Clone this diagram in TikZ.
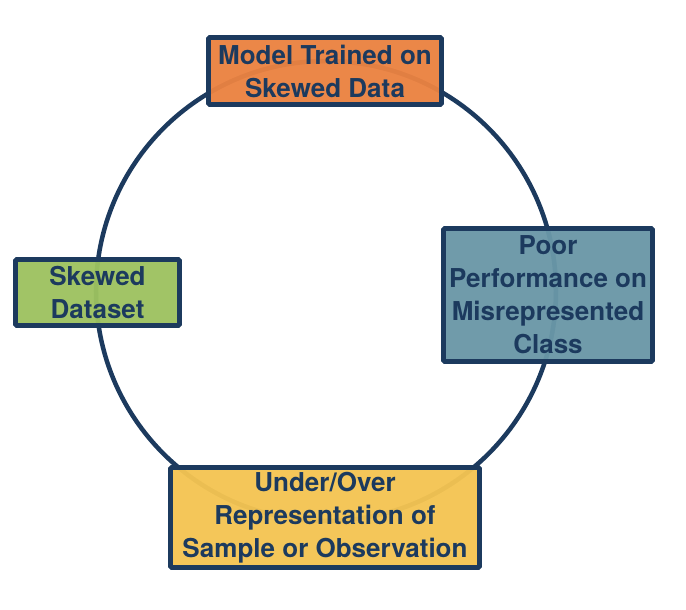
\documentclass[tikz,border=0pt]{standalone}
\usepackage{fontspec}
\setmainfont{TeX Gyre Heros}
\usepackage{xcolor}

\definecolor{navy}{HTML}{1C3A5E}
\definecolor{boxorange}{HTML}{EA8241}
\definecolor{boxgreen}{HTML}{9DC260}
\definecolor{boxteal}{HTML}{6A97A7}
\definecolor{boxyellow}{HTML}{F4C452}

\begin{document}
\begin{tikzpicture}[
		stage/.style={draw=navy, line width=3.5pt, rounded corners=1pt, fill opacity=0.96, text opacity=1, text=navy, align=center, inner sep=0pt, font=\fontsize{18.5}{23.5}\selectfont\bfseries}
	]
			\useasboundingbox (-8.15,-7.975) rectangle (9.0,7.275);
			
			\coordinate (hub) at (0,0);
			\draw[navy, line width=3.2pt] (hub) circle (5.75);
			
			\node[stage, fill=boxorange, minimum width=5.825cm, minimum height=1.675cm] (trained) at (-0.025,5.5) {Model Trained on\\Skewed Data};
			\node[stage, fill=boxteal, minimum width=5.225cm, minimum height=3.325cm] (poor) at (5.55,-0.1) {Poor\\Performance on\\Misrepresented\\Class};
			\node[stage, fill=boxyellow, minimum width=7.725cm, minimum height=2.5cm] (repr) at (-0.025,-5.6625) {Under/Over\\Representation of\\Sample or Observation};
			\node[stage, fill=boxgreen, minimum width=4.1cm, minimum height=1.65cm] (skewed) at (-5.7125,-0.0375) {Skewed\\Dataset};
		\end{tikzpicture}
\end{document}
